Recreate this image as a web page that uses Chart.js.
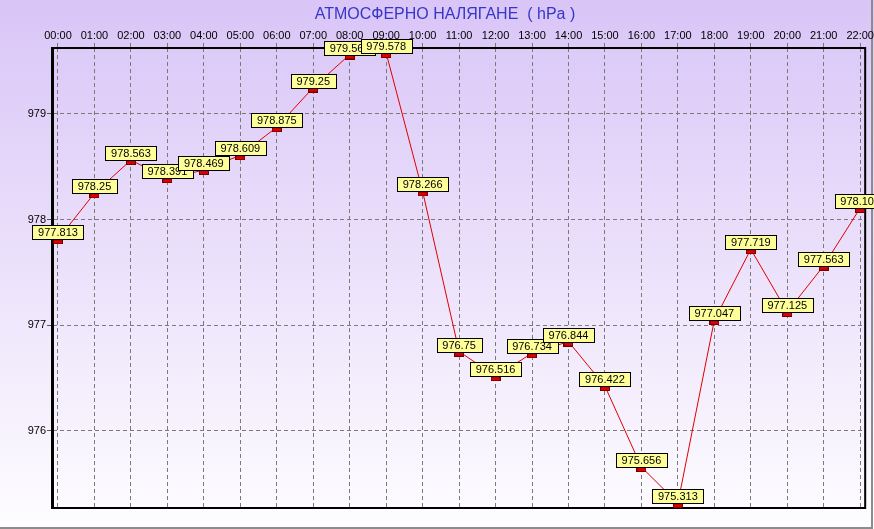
<!DOCTYPE html>
<html>
<head>
<meta charset="utf-8">
<script src="https://cdn.jsdelivr.net/npm/chart.js@4.4.1/dist/chart.umd.min.js"></script>
<style>
  body { margin: 0; background: #fff; }
  #wrap { width: 874px; height: 529px; position: relative; }
</style>
</head>
<body>
<div id="wrap"><canvas id="myChart"></canvas></div>
<script>
const hours = [
  "00:00", "01:00", "02:00", "03:00", "04:00", "05:00", "06:00", "07:00",
  "08:00", "09:00", "10:00", "11:00", "12:00", "13:00", "14:00", "15:00",
  "16:00", "17:00", "18:00", "19:00", "20:00", "21:00", "22:00",
];
const pressure = [
  977.813, 978.25, 978.563, 978.391, 978.469, 978.609, 978.875, 979.25,
  979.563, 979.578, 978.266, 976.75, 976.516, 976.734, 976.844, 976.422,
  975.656, 975.313, 977.047, 977.719, 977.125, 977.563, 978.109,
];
const valueLabels = [
  "977.813", "978.25", "978.563", "978.391", "978.469", "978.609", "978.875", "979.25",
  "979.563", "979.578", "978.266", "976.75", "976.516", "976.734", "976.844", "976.422",
  "975.656", "975.313", "977.047", "977.719", "977.125", "977.563", "978.109",
];
const chartTitle = "АТМОСФЕРНО НАЛЯГАНЕ  ( hPa )";

const FONT = "'Liberation Sans', Arial, sans-serif";

// red marker hanging under the point
function makeMarker() {
  const c = document.createElement("canvas");
  c.width = 10;
  c.height = 10;
  const g = c.getContext("2d");
  g.fillStyle = "#dd0000";
  g.fillRect(0, 5, 10, 5);
  g.strokeStyle = "#700000";
  g.lineWidth = 1;
  g.strokeRect(0.5, 5.5, 9, 4);
  return c;
}

const isWhole = (v) => Math.abs(v - Math.round(v)) < 1e-6;

const bgPlugin = {
  id: "bg",
  beforeDraw(chart) {
    const ctx = chart.ctx;
    const grad = ctx.createLinearGradient(0, 0, 0, chart.height);
    grad.addColorStop(0, "#d9c5f7");
    grad.addColorStop(1, "#fefdff");
    ctx.save();
    ctx.fillStyle = grad;
    ctx.fillRect(0, 0, chart.width, chart.height);
    // outer frame
    ctx.strokeStyle = "#8c8c8c";
    ctx.lineWidth = 2;
    ctx.beginPath();
    ctx.moveTo(chart.width - 2, 0);
    ctx.lineTo(chart.width - 2, chart.height - 1);
    ctx.lineTo(0, chart.height - 1);
    ctx.stroke();
    // title
    ctx.fillStyle = "#3636c8";
    ctx.font = "16px " + FONT;
    ctx.textAlign = "center";
    ctx.textBaseline = "middle";
    ctx.fillText(chartTitle, 445, 15);
    ctx.restore();
  },
  beforeDatasetsDraw(chart) {
    const a = chart.chartArea;
    const ctx = chart.ctx;
    ctx.save();
    ctx.strokeStyle = "#000";
    ctx.lineWidth = 2;
    ctx.beginPath();
    ctx.moveTo(a.left, a.top);
    ctx.lineTo(a.right, a.top);
    ctx.lineTo(a.right, a.bottom);
    ctx.lineTo(a.left, a.bottom);
    ctx.stroke();
    ctx.lineWidth = 3;
    ctx.beginPath();
    ctx.moveTo(a.left - 0.5, a.top - 1);
    ctx.lineTo(a.left - 0.5, a.bottom + 1);
    ctx.stroke();
    ctx.restore();
  },
  afterDatasetsDraw(chart) {
    const ctx = chart.ctx;
    const pts = chart.getDatasetMeta(0).data;
    ctx.save();
    ctx.font = "11px " + FONT;
    ctx.textAlign = "center";
    ctx.textBaseline = "middle";
    pts.forEach((p, i) => {
      const txt = valueLabels[i];
      const w = Math.round(ctx.measureText(txt).width + 11);
      const h = 14;
      const x0 = Math.round(p.x - w / 2) + 0.5;
      const y0 = Math.round(p.y - h) + 0.5;
      ctx.fillStyle = "#ffff99";
      ctx.fillRect(x0, y0, w, h);
      ctx.strokeStyle = "#000";
      ctx.lineWidth = 1;
      ctx.strokeRect(x0, y0, w, h);
      ctx.fillStyle = "#000";
      ctx.fillText(txt, p.x, y0 + h / 2 + 0.5);
    });
    ctx.restore();
  },
};

new Chart("myChart", {
  type: "line",
  data: {
    datasets: [
      {
        data: hours.map((h, i) => ({ x: i, y: pressure[i] })),
        borderColor: "#e00000",
        borderWidth: 1,
        fill: false,
        tension: 0,
        pointStyle: makeMarker(),
        pointRadius: 5,
      },
    ],
  },
  options: {
    responsive: true,
    maintainAspectRatio: false,
    animation: false,
    events: [],
    layout: { padding: { left: 0, top: 0, right: 8, bottom: 21 } },
    plugins: {
      legend: { display: false },
      tooltip: { enabled: false },
      title: { display: false },
    },
    scales: {
      x: {
        type: "linear",
        position: "top",
        min: -0.137,
        max: 22.137,
        afterFit(scale) { scale.height = 48; },
        border: { display: false, dash: [4, 3] },
        grid: {
          color: "#7a7a7a",
          tickBorderDash: [4, 3],
          tickColor: "#7a7a7a",
          tickLength: 5,
        },
        ticks: {
          stepSize: 1,
          includeBounds: false,
          autoSkip: false,
          maxRotation: 0,
          padding: 0,
          color: "#000",
          font: { family: FONT, size: 11 },
          callback: (v) => (isWhole(v) ? hours[Math.round(v)] : ""),
        },
      },
      y: {
        min: 975.268,
        max: 979.625,
        afterFit(scale) { scale.width = 53; },
        border: { display: false, dash: [4, 3] },
        grid: {
          color: (c) => (c.tick && isWhole(c.tick.value) ? "#7a7a7a" : "transparent"),
          tickColor: "#555",
          tickLength: 6,
          tickBorderDash: (c) => (c.tick && isWhole(c.tick.value) ? [] : [0, 4, 2, 20]),
        },
        ticks: {
          stepSize: 0.25,
          includeBounds: false,
          autoSkip: false,
          padding: 1,
          color: "#000",
          font: { family: FONT, size: 11 },
          callback: (v) => (isWhole(v) ? String(Math.round(v)) : ""),
        },
      },
    },
  },
  plugins: [bgPlugin],
});
</script>
</body>
</html>
